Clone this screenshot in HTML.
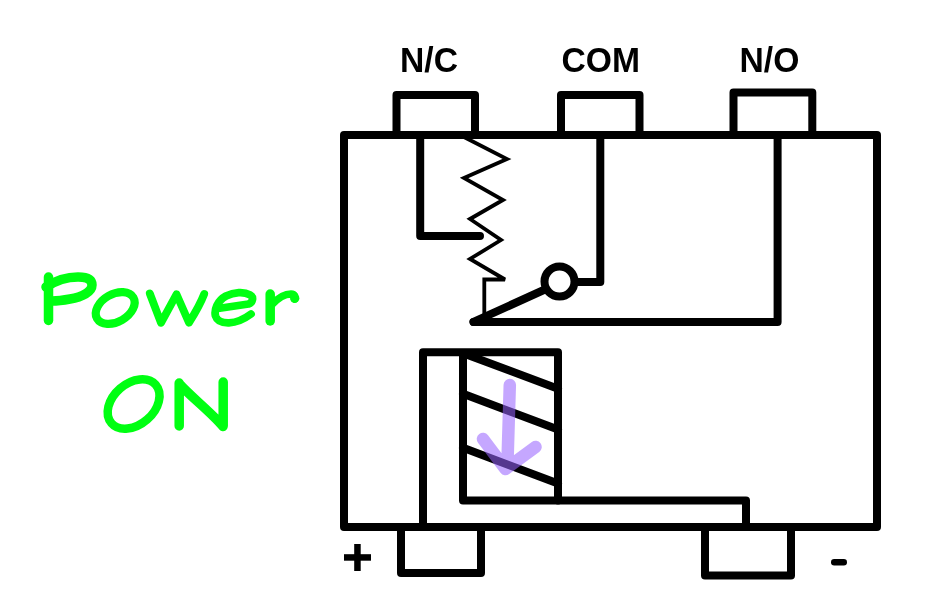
<!DOCTYPE html>
<html><head><meta charset="utf-8">
<style>
html,body{margin:0;padding:0;background:#fff;width:933px;height:615px;overflow:hidden}
svg{display:block}
</style></head>
<body>
<svg width="933" height="615" viewBox="0 0 933 615">
<rect width="933" height="615" fill="#fff"/>
<!-- labels -->
<g font-family="'Liberation Sans', sans-serif" font-weight="bold" font-size="34.5" letter-spacing="0" fill="#000" style="will-change:transform">
<text transform="translate(400 71.6) scale(0.975 1)">N/C</text>
<text transform="translate(561.5 71.6) scale(0.975 1)">COM</text>
<text transform="translate(739.5 71.6) scale(0.975 1)">N/O</text>
</g>
<g fill="none" stroke="#000" stroke-width="8" stroke-linejoin="round" stroke-linecap="round">
<!-- outer box -->
<rect x="344" y="135" width="533" height="392"/>
<!-- terminals -->
<path d="M396.5,135 V95 H475 V135"/>
<path d="M561,135 V95 H639.5 V135"/>
<path d="M733.5,135 V92.6 H812.3 V135"/>
<path d="M401,527 V573 H481 V527"/>
<path d="M705,527 V575.5 H791 V527"/>
<!-- NC line -->
<path d="M420.2,135 V235.9 H480"/>
<!-- COM line -->
<path d="M600.3,135 V281.9 H575"/>
<circle cx="559.5" cy="281.5" r="15"/>
<!-- NO line -->
<path d="M777.6,135 V321.9 H473.5"/>
<!-- lever -->
<path d="M473.5,321.9 L546,289"/>
<!-- coil -->
<path d="M423,527 V352.3 H558 V500.4"/>
<path d="M463,356 V500.4 H746 V527"/>
<path d="M463,353.2 L558,388.8"/>
<path d="M463,393.7 L558,429.6"/>
<path d="M463,447.7 L558,483.6"/>
</g>
<!-- spring -->
<path d="M462,136 L507,159 L464,178 L503,200 L470,219 L501,240 L470,259 L505,279.5 L484.3,279.5 V318" fill="none" stroke="#000" stroke-width="3.8" stroke-linejoin="miter" stroke-miterlimit="3"/>
<!-- plus / minus -->
<rect x="344" y="554.2" width="27" height="6.5" fill="#000"/>
<rect x="354.2" y="544" width="6.5" height="27" fill="#000"/>
<rect x="831" y="559" width="16" height="6.5" rx="3.2" fill="#000"/>
<!-- purple arrow -->
<g opacity="0.56" >
<path d="M509.8,385 L507.5,462 M483,439 L505.5,469 L535.5,447" fill="none" stroke="#9862ff" stroke-width="12.5" stroke-linecap="round" stroke-linejoin="round"/>
</g>
<!-- Power ON -->
<g fill="none" stroke="#00ff12" stroke-width="9.5" stroke-linecap="round" stroke-linejoin="round">
<path d="M48.5,277 V320.5"/>
<path d="M46,287 C55,281 65,277 78,277 C88,277 92,280 92,285 C92,292 82,297 70,299 C62,300.5 56,301 52,301"/>
<ellipse cx="115.2" cy="308" rx="21" ry="13.8" transform="rotate(-30 115.2 308)" stroke-width="8.2"/>
<path d="M149.8,293.5 L161,322.8 L176.5,294.3 L189,322.8 Q200,305 204.2,294" stroke-width="7.8"/>
<path d="M218,308.5 L248.5,304 C253,302.5 254,297 250,294.8 C244,291.5 234,292 226,296 C217,301 214,310 215.5,316 C217,321 222,323 229,322.8 C237,322.5 245,318.5 251,314" stroke-width="7.8"/>
<path d="M270.2,294 V321"/><path d="M272,304.5 C278,298 285,294 291,294 C295,294 295.5,297 294.5,299" stroke-width="7.6"/><circle cx="294.8" cy="298.2" r="4.6" fill="#00ff12" stroke="none"/>
<ellipse cx="133.6" cy="404" rx="29.3" ry="20.6" transform="rotate(-41 133.6 404)" stroke-width="8.5"/>
<path d="M179.2,383 V426 M179.5,384 C190,396 212,413 223,426.5 M223.2,382 V426"/>
</g>
</svg>
</body></html>
